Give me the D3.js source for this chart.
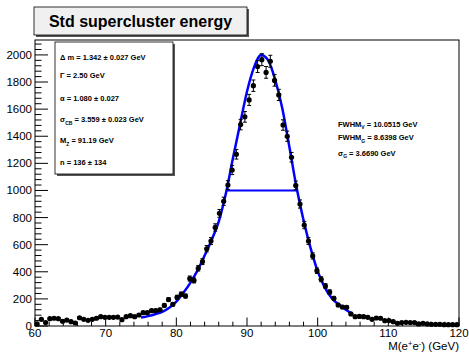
<!DOCTYPE html>
<html>
<head>
<meta charset="utf-8">
<script src="https://cdn.jsdelivr.net/npm/d3@7"></script>
<style>
  body { margin: 0; background: #fff; }
  text { font-family: "Liberation Sans", Arial, Helvetica, sans-serif; }
</style>
</head>
<body>
<div id="chart"></div>
<script>
// histogram: 100 bins of 0.6 GeV from 60 to 120
const binLow = 60;
const binWidth = 0.6;
const counts = [
  15, 49, 25, 54, 57, 54, 35, 44, 32, 22,
  61, 49, 42, 49, 57, 69, 64, 64, 64, 66,
  47, 69, 76, 69, 81, 98, 98, 113, 113, 120,
  152, 195, 160, 212, 235, 221, 350, 336, 426, 475,
  570, 627, 727, 831, 920, 1040, 1151, 1267, 1486, 1543,
  1668, 1773, 1914, 1965, 1871, 1953, 1812, 1705, 1483, 1400,
  1245, 1037, 900, 745, 627, 517, 408, 345, 295, 251,
  204, 155, 140, 138, 89, 69, 71, 69, 64, 49,
  59, 57, 39, 40, 32, 20, 25, 27, 25, 25,
  15, 20, 15, 12, 12, 12, 10, 10, 10, 10
];

// fitted curve
const fitMass = [75, 76, 77, 78, 79, 80, 81, 82, 83, 84, 85, 86, 87, 88, 89, 90,
  91, 92, 93, 94, 95, 96, 97, 98, 99, 100, 101, 102, 103, 104, 105];
const fitValue = [62, 73, 87, 105, 135, 180, 245, 320, 410, 520, 635, 770, 975, 1235, 1485, 1730,
  1910, 2000, 1960, 1815, 1605, 1320, 1025, 780, 575, 405, 285, 205, 158, 120, 85];

// half-maximum segment
const fwhmMass = [87.1, 97.1];
const fwhmLevel = 1000;

const xTicks = [60, 70, 80, 90, 100, 110, 120];
const yTicks = [0, 200, 400, 600, 800, 1000, 1200, 1400, 1600, 1800, 2000];

const statLines = [
  ["Δ m = 1.342 ± 0.027 GeV"],
  ["Γ = 2.50 GeV"],
  ["α = 1.080 ± 0.027"],
  ["σ", "CB", " = 3.559 ± 0.023 GeV"],
  ["M", "Z", " = 91.19 GeV"],
  ["n = 136 ± 134"]
];
const widthLines = [
  ["FWHM", "V", " = 10.0515 GeV"],
  ["FWHM", "G", " = 8.6398 GeV"],
  ["σ", "G", " = 3.6690 GeV"]
];

const width = 469, height = 353;
const frame = { left: 35, right: 459, top: 40, bottom: 326 };

const svg = d3.select("#chart").append("svg")
  .attr("width", width)
  .attr("height", height);

const x = d3.scaleLinear().domain([60, 120]).range([frame.left, frame.right]);
const y = d3.scaleLinear().domain([0, 2110]).range([frame.bottom, frame.top]);

// frame
svg.append("rect")
  .attr("x", frame.left).attr("y", frame.top)
  .attr("width", frame.right - frame.left).attr("height", frame.bottom - frame.top)
  .attr("fill", "none").attr("stroke", "#000").attr("stroke-width", 1);

// x axis ticks (inside)
const xMinor = d3.range(60, 120.01, 2);
svg.append("g").selectAll("line").data(xMinor).join("line")
  .attr("x1", d => x(d)).attr("x2", d => x(d))
  .attr("y1", frame.bottom)
  .attr("y2", d => frame.bottom - (d % 10 === 0 ? 8.5 : 4.3))
  .attr("stroke", "#000");
svg.append("g").selectAll("text").data(xTicks).join("text")
  .attr("x", d => x(d)).attr("y", 337)
  .attr("text-anchor", "middle")
  .attr("font-size", 11.5)
  .text(d => d);

// y axis ticks (inside)
const yMinor = d3.range(0, 2110, 40);
svg.append("g").selectAll("line").data(yMinor).join("line")
  .attr("y1", d => y(d)).attr("y2", d => y(d))
  .attr("x1", frame.left)
  .attr("x2", d => frame.left + (d % 200 === 0 ? 13 : 6.5))
  .attr("stroke", "#000");
svg.append("g").selectAll("text").data(yTicks).join("text")
  .attr("x", 32).attr("y", d => y(d) + 4)
  .attr("text-anchor", "end")
  .attr("font-size", 11.5)
  .text(d => d);

// x axis title
const xt = svg.append("text")
  .attr("x", frame.right).attr("y", 350)
  .attr("text-anchor", "end")
  .attr("font-size", 11.5);
xt.append("tspan").text("M(e");
xt.append("tspan").attr("dy", -4).attr("font-size", 7.5).text("+");
xt.append("tspan").attr("dy", 4).text("e");
xt.append("tspan").attr("dy", -4).attr("font-size", 7.5).text("-");
xt.append("tspan").attr("dy", 4).text(") (GeV)");

// fit curve
const line = d3.line()
  .x((d, i) => x(fitMass[i]))
  .y(d => y(d))
  .curve(d3.curveMonotoneX);
svg.append("path")
  .datum(fitValue)
  .attr("fill", "none")
  .attr("stroke", "#0000ff")
  .attr("stroke-width", 2.5)
  .attr("d", line);

svg.append("line")
  .attr("x1", x(fwhmMass[0])).attr("x2", x(fwhmMass[1]))
  .attr("y1", y(fwhmLevel)).attr("y2", y(fwhmLevel))
  .attr("stroke", "#0000ff").attr("stroke-width", 2);

// data points with poisson errors
const pts = counts.map((c, i) => ({ m: binLow + binWidth * (i + 0.5), c: c, e: Math.sqrt(c) }));
const g = svg.append("g");
pts.forEach(p => {
  const px = x(p.m);
  const y0 = y(p.c - p.e), y1 = y(p.c + p.e);
  g.append("line").attr("x1", px).attr("x2", px).attr("y1", y0).attr("y2", y1)
    .attr("stroke", "#000").attr("stroke-width", 1);
  [y0, y1].forEach(yy => g.append("line")
    .attr("x1", px - 2).attr("x2", px + 2).attr("y1", yy).attr("y2", yy)
    .attr("stroke", "#000").attr("stroke-width", 1));
});
g.selectAll("circle").data(pts).join("circle")
  .attr("cx", d => x(d.m)).attr("cy", d => y(Math.max(d.c, 0)))
  .attr("r", 2.6)
  .attr("fill", "#000");

// title pave
svg.append("rect").attr("x", 36).attr("y", 9).attr("width", 213).attr("height", 28).attr("fill", "#555");
svg.append("rect").attr("x", 34).attr("y", 7).attr("width", 213).attr("height", 28)
  .attr("fill", "#f0f0f0").attr("stroke", "#000").attr("stroke-width", 0.8);
svg.append("text")
  .attr("x", 140.5).attr("y", 27)
  .attr("text-anchor", "middle")
  .attr("font-size", 16).attr("font-weight", "bold")
  .text("Std supercluster energy");

// stats pave
svg.append("rect").attr("x", 57).attr("y", 44).attr("width", 118).attr("height", 132).attr("fill", "#555");
svg.append("rect").attr("x", 55).attr("y", 42).attr("width", 118).attr("height", 132)
  .attr("fill", "#fff").attr("stroke", "#000").attr("stroke-width", 0.8);

function drawLines(parts, x0, baselines) {
  parts.forEach((p, i) => {
    const t = svg.append("text")
      .attr("x", x0).attr("y", baselines[i])
      .attr("font-size", 7.5).attr("font-weight", "bold");
    if (p.length === 1) {
      t.text(p[0]);
    } else {
      t.append("tspan").text(p[0]);
      t.append("tspan").attr("dy", 2.5).attr("font-size", 5).text(p[1]);
      t.append("tspan").attr("dy", -2.5).text(p[2]);
    }
  });
}
drawLines(statLines, 60, [59.5, 78, 100.5, 122, 143, 165]);
drawLines(widthLines, 338, [126.5, 140, 155.5]);
</script>
</body>
</html>
